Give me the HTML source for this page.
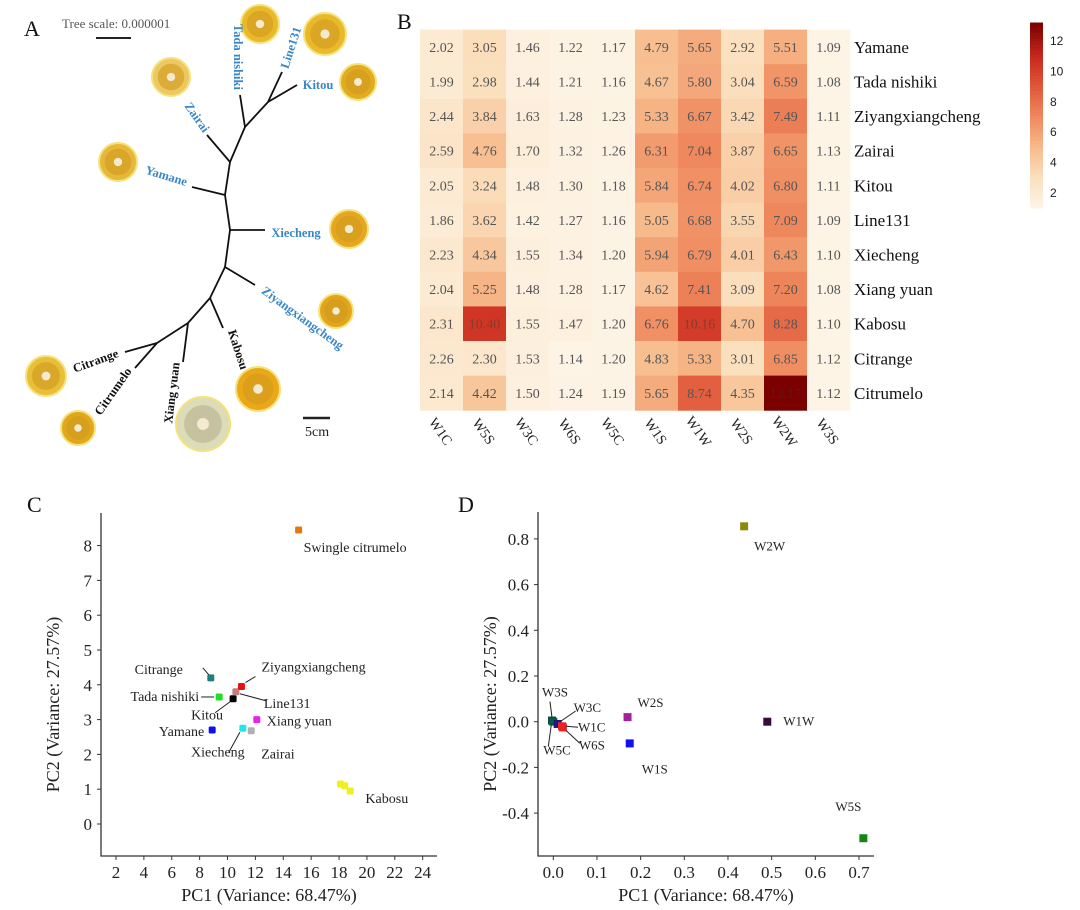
<!DOCTYPE html>
<html><head><meta charset="utf-8"><style>
html,body{margin:0;padding:0;background:#fff;}
svg{display:block;font-family:"Liberation Serif",serif;}
</style></head><body>
<svg id="fig" width="1080" height="910" viewBox="0 0 1080 910">
<g id="panelA"></g>
<g id="panelB"></g>
<g id="panelC"></g>
<g id="panelD"></g>
</svg>
<script>
const NS='http://www.w3.org/2000/svg';
function mk(parent,tag,attrs,text){const e=document.createElementNS(NS,tag);for(const k in attrs)e.setAttribute(k,attrs[k]);if(text!==undefined)e.textContent=text;parent.appendChild(e);return e;}

// ---------- Panel B data ----------
const hmCols=['W1C','W5S','W3C','W6S','W5C','W1S','W1W','W2S','W2W','W3S'];
const hmRows=['Yamane','Tada nishiki','Ziyangxiangcheng','Zairai','Kitou','Line131','Xiecheng','Xiang yuan','Kabosu','Citrange','Citrumelo'];
const hmYamane=[2.02,3.05,1.46,1.22,1.17,4.79,5.65,2.92,5.51,1.09];
const hmTada=[1.99,2.98,1.44,1.21,1.16,4.67,5.80,3.04,6.59,1.08];
const hmZiyang=[2.44,3.84,1.63,1.28,1.23,5.33,6.67,3.42,7.49,1.11];
const hmZairai=[2.59,4.76,1.70,1.32,1.26,6.31,7.04,3.87,6.65,1.13];
const hmKitou=[2.05,3.24,1.48,1.30,1.18,5.84,6.74,4.02,6.80,1.11];
const hmLine131=[1.86,3.62,1.42,1.27,1.16,5.05,6.68,3.55,7.09,1.09];
const hmXiecheng=[2.23,4.34,1.55,1.34,1.20,5.94,6.79,4.01,6.43,1.10];
const hmXiangyuan=[2.04,5.25,1.48,1.28,1.17,4.62,7.41,3.09,7.20,1.08];
const hmKabosu=[2.31,10.40,1.55,1.47,1.20,6.76,10.16,4.70,8.28,1.10];
const hmCitrange=[2.26,2.30,1.53,1.14,1.20,4.83,5.33,3.01,6.85,1.12];
const hmCitrumelo=[2.14,4.42,1.50,1.24,1.19,5.65,8.74,4.35,13.17,1.12];
const hmValues=[hmYamane,hmTada,hmZiyang,hmZairai,hmKitou,hmLine131,hmXiecheng,hmXiangyuan,hmKabosu,hmCitrange,hmCitrumelo];
const cbTicks=[2,4,6,8,10,12];

// ---------- Panel C data ----------
const cNames=['Swingle citrumelo','Citrange','Tada nishiki','Kitou','Line131','Ziyangxiangcheng','Xiang yuan','Yamane','Xiecheng','Zairai','Kabosu','Kabosu','Kabosu'];
const cPC1=[15.1,8.8,9.4,10.4,10.6,11.0,12.1,8.9,11.1,11.7,18.1,18.4,18.8];
const cPC2=[8.45,4.2,3.65,3.6,3.8,3.95,3.0,2.7,2.75,2.68,1.15,1.1,0.95];
const cColors=['#e07a10','#1a8080','#20e020','#000000','#c08080','#ee1010','#ee20ee','#1010ee','#20e8e8','#b0b0b0','#f0f020','#f0f020','#f0f020'];
const cXTicks=[2,4,6,8,10,12,14,16,18,20,22,24];
const cYTicks=[0,1,2,3,4,5,6,7,8];

// ---------- Panel D data ----------
const dNames=['W2W','W1W','W5S','W2S','W1S','W3S','W5C','W3C','W1C','W6S'];
const dPC1=[0.437,0.49,0.71,0.17,0.175,-0.003,0.0,0.01,0.02,0.022];
const dPC2=[0.855,0.0,-0.51,0.02,-0.095,0.005,0.0,-0.01,-0.02,-0.025];
const dColors=['#8a8a10','#3a0a3a','#108a10','#a020a0','#1010f0','#0a4a3a','#0a5a4a','#1a1a80','#ee2020','#ee2020'];
const dXTicks=[0.0,0.1,0.2,0.3,0.4,0.5,0.6,0.7];
const dYTicks=[-0.4,-0.2,0.0,0.2,0.4,0.6,0.8];

// ================= Panel A: tree =================
(function(){
const g=document.getElementById('panelA');
let t=mk(g,'text',{x:24,y:36,'font-size':22,fill:'#111'},'A');


t=mk(g,'text',{x:62,y:28,'font-size':13,fill:'#555'},'Tree scale: 0.000001');


mk(g,'line',{x1:96,y1:38,x2:131,y2:38,stroke:'#222','stroke-width':2});
t=mk(g,'text',{x:305,y:436,'font-size':14,fill:'#222'},'5cm');


mk(g,'line',{x1:303,y1:418,x2:330,y2:418,stroke:'#222','stroke-width':2.5});
const fruits=[[260,24,19,'#e9b92a'],[325,34,21,'#e9b92a'],[358,82,18,'#e2ac20'],[171,77,19,'#edc760'],[118,162,19,'#e6b83a'],[349,229,19,'#e6a720'],[336,311,17,'#e2a51c'],[46,376,20,'#e9be38'],[78,428,17,'#e0a81c'],[203,424,27,'#dcdcb8'],[258,389,22,'#eaa818']];
fruits.forEach(f=>{
 const c=mk(g,'circle',{cx:f[0],cy:f[1],r:f[2],fill:f[3],stroke:'#f5e27a','stroke-width':2});
 
 
 mk(g,'circle',{cx:f[0],cy:f[1],r:f[2]*0.7,fill:f[3]==='#dcdcb8'?'#b8b090':'#d09a20',opacity:0.6});
 mk(g,'circle',{cx:f[0],cy:f[1],r:f[2]*0.22,fill:'#f4ead0'});
});
const lines=[[245,127,230,162],[230,162,225,195],[225,195,230,230],[230,230,225,267],[225,267,210,298],[210,298,188,323],[188,323,157,343],
[245,127,240,95],[245,127,268,102],[268,102,282,72],[268,102,297,85],[230,162,207,135],[225,195,192,187],[230,230,265,230],[225,267,255,285],[210,298,223,328],[188,323,183,362],[157,343,125,352],[157,343,135,368]];
lines.forEach(l=>{const e=mk(g,'line',{x1:l[0],y1:l[1],x2:l[2],y2:l[3],stroke:'#111','stroke-width':1.8});
 
 });
const labs=[['Tada nishiki',237,57,90,'#3a87c8'],['Line131',292,48,-72,'#3a87c8'],['Kitou',318,86,0,'#3a87c8'],['Zairai',196,118,55,'#3a87c8'],['Yamane',166,177,17,'#3a87c8'],['Xiecheng',296,234,0,'#3a87c8'],['Ziyangxiangcheng',302,319,36,'#3a87c8'],['Kabosu',237,350,72,'#111'],['Xiang yuan',173,393,-83,'#111'],['Citrange',96,362,-20,'#111'],['Citrumelo',114,392,-55,'#111']];
labs.forEach(l=>{const e=mk(g,'text',{x:l[1],y:l[2],'font-size':12.5,'font-weight':'bold',fill:l[4],'text-anchor':'middle','dominant-baseline':'middle',transform:`rotate(${l[3]} ${l[1]} ${l[2]})`},l[0]);
 
 });
})();

// ================= Panel B: heatmap =================
(function(){
const g=document.getElementById('panelB');
let t=mk(g,'text',{x:397,y:29,'font-size':22,fill:'#111'},'B');


const x0=420,y0=29.6,cw=43,ch=34.6;
const stops=[[1,[253,245,232]],[3,[251,224,190]],[5,[247,187,140]],[7,[239,138,94]],[9,[224,88,58]],[11,[200,40,28]],[13.2,[122,0,0]]];
function col(v){for(let i=0;i<stops.length-1;i++){const a=stops[i],b=stops[i+1];if(v<=b[0]||i===stops.length-2){let f=Math.max(0,Math.min(1,(v-a[0])/(b[0]-a[0])));const c=a[1].map((x,k)=>Math.round(x+(b[1][k]-x)*f));return `rgb(${c})`;}}}
const xS=i=>x0+i*cw, yS=j=>y0+j*ch;
hmValues.forEach((row,j)=>{
 row.forEach((v,i)=>{
  const r=mk(g,'rect',{x:xS(i),y:yS(j),width:cw+0.5,height:ch+0.5,fill:col(v)});
  
  
  const tx=mk(g,'text',{x:xS(i)+cw/2,y:yS(j)+ch/2+5,'font-size':14,fill:v>12?'#5a1a1a':(v>9.5?'#8a3a2a':'#555'),'text-anchor':'middle'},v.toFixed(2));
  
  
 });
 const rl=mk(g,'text',{x:x0+10*cw+4,y:yS(j)+ch/2+6,'font-size':17,fill:'#111'},hmRows[j]);
 
 
});
hmCols.forEach((c,i)=>{const cx=xS(i)+cw/2-2,cy=y0+11*ch+22;
 const e=mk(g,'text',{x:cx,y:cy,'font-size':14,fill:'#222','text-anchor':'middle','dominant-baseline':'middle',transform:`rotate(55 ${cx} ${cy})`},c);
 
 });
// colorbar
const cbx=1030,cbTop=23,cbBot=208,vmin=1,vmax=13.2;
const cy=v=>cbBot-(v-vmin)/(vmax-vmin)*(cbBot-cbTop);
for(let k=0;k<60;k++){const v1=vmin+(vmax-vmin)*k/60;
 mk(g,'rect',{x:cbx,y:cy(v1+(vmax-vmin)/60)-0.5,width:13,height:(cbBot-cbTop)/60+1,fill:col(v1+(vmax-vmin)/120)});}
const cbOutline=mk(g,'rect',{x:cbx,y:cbTop,width:13,height:cbBot-cbTop,fill:'none'});


cbTicks.forEach(v=>{const e=mk(g,'text',{x:1050,y:cy(v)+4,'font-size':12,fill:'#222','font-family':'Liberation Sans, sans-serif'},String(v));
 
 });
})();

// ================= scatter helper =================
function scatter(g,o){
 const xS=v=>o.px0+(v-o.vx0)*o.kx, yS=v=>o.py0-(v-o.vy0)*o.ky;
 const ax=mk(g,'path',{d:`M${o.axX},${o.top} V${o.axY} H${o.right}`,fill:'none',stroke:'#333','stroke-width':1.3});
 
 
 o.xt.forEach(v=>{const x=xS(v);mk(g,'line',{x1:x,y1:o.axY,x2:x,y2:o.axY+4,stroke:'#333'});
  const e=mk(g,'text',{x:x,y:o.axY+22,'font-size':17,fill:'#222','text-anchor':'middle'},o.fmt(v));
  
  });
 o.yt.forEach(v=>{const y=yS(v);mk(g,'line',{x1:o.axX-4,y1:y,x2:o.axX,y2:y,stroke:'#333'});
  const e=mk(g,'text',{x:o.axX-9,y:y+6,'font-size':17,fill:'#222','text-anchor':'end'},o.fmt(v));
  
  });
 let e=mk(g,'text',{x:(o.axX+o.right)/2,y:o.axY+45,'font-size':18,fill:'#222','text-anchor':'middle'},'PC1 (Variance: 68.47%)');
 
 
 const tx=o.axX-42,ty=(o.top+o.axY)/2+20;
 e=mk(g,'text',{x:tx,y:ty,'font-size':18,fill:'#222','text-anchor':'middle',transform:`rotate(-90 ${tx} ${ty})`},'PC2 (Variance: 27.57%)');
 
 
 return {xS,yS};
}

// ================= Panel C =================
(function(){
const g=document.getElementById('panelC');
let t=mk(g,'text',{x:27,y:512,'font-size':22,fill:'#111'},'C');


const s=scatter(g,{px0:116,vx0:2,kx:13.94,py0:824,vy0:0,ky:34.8,axX:101,axY:856,top:513,right:437,xt:cXTicks,yt:cYTicks,fmt:v=>String(v)});
const labelOff={'Swingle citrumelo':[5,22,'start'],'Citrange':[-52,-4,'middle'],'Tada nishiki':[-20,4,'end'],'Kitou':[-26,21,'middle'],'Line131':[28,16,'start'],'Ziyangxiangcheng':[20,-15,'start'],'Xiang yuan':[10,6,'start'],'Yamane':[-8,6,'end'],'Xiecheng':[-25,28,'middle'],'Zairai':[10,28,'start']};
const done={};
cPC1.forEach((v,i)=>{const x=s.xS(v),y=s.yS(cPC2[i]);
 const p=mk(g,'rect',{x:x-3.5,y:y-3.5,width:7,height:7,rx:1.5,fill:cColors[i]});
 
 
 const n=cNames[i];
 if(!done[n]){done[n]=1;
  if(n==='Kabosu'){const e=mk(g,'text',{x:x+25,y:y+19,'font-size':14,fill:'#222'},n);
   
   return;}
  const o=labelOff[n];
  const e=mk(g,'text',{x:x+o[0],y:y+o[1],'font-size':14,fill:'#222','text-anchor':o[2]},n);
  
  
 }
});
// leader lines
const ld=[[1,-8,-10,-2,-3],[2,-18,0,-5,0],[3,-18,14,-3,3],[4,4,2,30,9],[5,4,-4,14,-10],[8,-3,4,-14,24]];
ld.forEach(l=>{const x=s.xS(cPC1[l[0]]),y=s.yS(cPC2[l[0]]);mk(g,'line',{x1:x+l[1],y1:y+l[2],x2:x+l[3],y2:y+l[4],stroke:'#222','stroke-width':1});});
})();

// ================= Panel D =================
(function(){
const g=document.getElementById('panelD');
let t=mk(g,'text',{x:458,y:512,'font-size':22,fill:'#111'},'D');


const s=scatter(g,{px0:553.3,vx0:0,kx:436.7,py0:721.7,vy0:0,ky:228.5,axX:538,axY:856,top:512,right:874,xt:dXTicks,yt:dYTicks,fmt:v=>v.toFixed(1)});
const off={'W2W':[10,24,'start'],'W1W':[16,4,'start'],'W5S':[-28,-27,'start'],'W2S':[10,-10,'start'],'W1S':[12,30,'start'],'W3S':[-10,-24,'start'],'W5C':[-10,33,'start'],'W3C':[16,-12,'start'],'W1C':[16,5,'start'],'W6S':[16,22,'start']};
dPC1.forEach((v,i)=>{const x=s.xS(v),y=s.yS(dPC2[i]);
 const p=mk(g,'rect',{x:x-4,y:y-4,width:8,height:8,fill:dColors[i]});
 
 
 const o=off[dNames[i]];
 const e=mk(g,'text',{x:x+o[0],y:y+o[1],'font-size':13,fill:'#222','text-anchor':o[2]},dNames[i]);
 
 
});
const ld=[[5,0,-3,-2,-19],[6,-2,3,-5,25],[7,2,-2,18,-13],[8,4,0,16,1],[9,3,3,17,16]];
ld.forEach(l=>{const x=s.xS(dPC1[l[0]]),y=s.yS(dPC2[l[0]]);mk(g,'line',{x1:x+l[1],y1:y+l[2],x2:x+l[3],y2:y+l[4],stroke:'#222','stroke-width':1});});
})();
</script>
</body></html>
